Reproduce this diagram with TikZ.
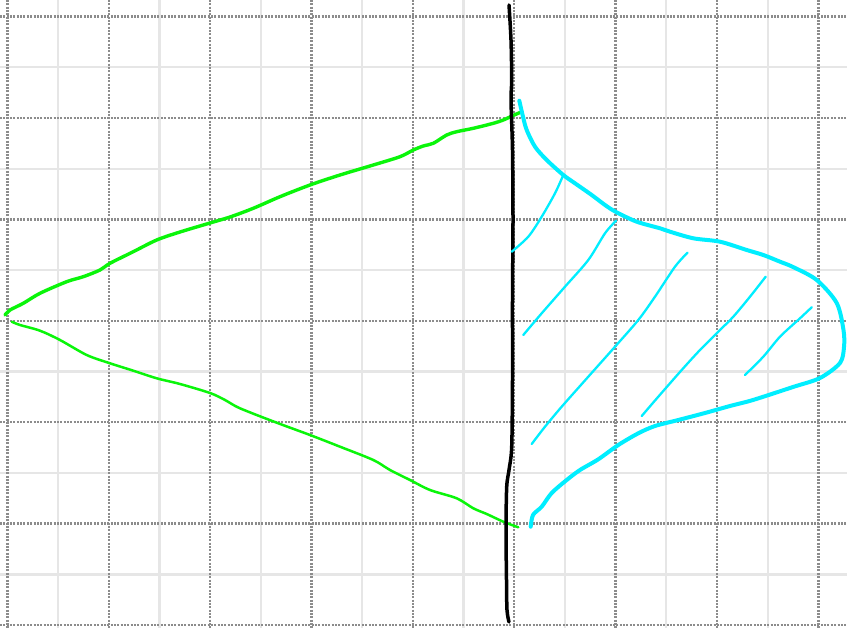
\documentclass[tikz,border=0pt]{standalone}
\usepackage{tikz}
\definecolor{gridlight}{RGB}{230,230,230}
\definecolor{griddot}{RGB}{140,140,140}
\definecolor{pengreen}{RGB}{10,245,10}
\definecolor{pencyan}{RGB}{0,238,255}
\tikzset{
  lightgrid/.style={draw=gridlight,line width=2.2pt},
  dotgrid/.style={draw=griddot,line width=2.4pt,dash pattern=on 2pt off 1.35pt},
  mirror/.style={draw=black,line width=3.5pt,line cap=round,line join=round},
  raythick/.style={draw=pengreen,line width=3.4pt,line cap=round,line join=round},
  raythin/.style={draw=pengreen,line width=2.5pt,line cap=round,line join=round},
  outline/.style={draw=pencyan,line width=4pt,line cap=round,line join=round},
  hatch/.style={draw=pencyan,line width=2.3pt,line cap=round,line join=round},
}
\begin{document}
\begin{tikzpicture}[x=1pt,y=-1pt]
\useasboundingbox (0,0) rectangle (847,628);
\fill[white] (0,0) rectangle (847,628);
% light grid
\foreach \k in {1,3,...,15} {
  \draw[lightgrid] ({7.5+50.675*\k},0) -- ({7.5+50.675*\k},628);
}
\foreach \k in {1,3,...,11} {
  \draw[lightgrid] (0,{16.7+50.7*\k}) -- (847,{16.7+50.7*\k});
}
% dotted grid
\foreach \k in {0,...,8} {
  \draw[dotgrid] ({7.5+101.35*\k},0) -- ({7.5+101.35*\k},628);
}
\foreach \k in {0,...,6} {
  \draw[dotgrid] (0,{16.7+101.4*\k}) -- (847,{16.7+101.4*\k});
}
% green rays
\draw[raythick] plot[smooth,tension=0.5] coordinates {
 (5,315) (10,310) (23.3,303.3) (40,293.3) (66.7,281.7) (83.3,276.7) (100,270)
 (110,263.3) (133.3,251.7) (156.7,240) (180,232) (210,223) (230,217)
 (253.3,208.3) (280,196.7) (310,185) (340,175) (373.3,165) (400,156.7)
 (413.3,150) (423.3,146) (433.3,143.3) (446.7,135) (456.7,131.7) (473.3,128.3)
 (493.3,123.3) (503.3,120) (512,116) (520,112.5)};
\draw[raythin] plot[smooth,tension=0.5] coordinates {
 (11.7,321.7) (20,325) (40,330.7) (60,340) (86.7,355) (110,363.3) (133.3,370.7)
 (156.7,378.3) (180,384) (210,393) (225,400) (240,408.3) (276.7,422.7)
 (310,435) (340,446.7) (373.3,460) (390,470) (410,480) (430,490) (456.7,498.3)
 (473.3,508.3) (486.7,514) (503.3,521.7) (518.3,527.3)};
% mirror
\draw[mirror] plot[smooth,tension=0.5] coordinates {
 (509,5) (511,40) (511.7,80) (511,100) (512.5,150) (513,220) (512.5,300)
 (512.5,380) (511.7,447) (509,470) (506.7,487) (506,530) (506.5,580)
 (507,610) (509,622)};
% cyan outline
\draw[outline] plot[smooth,tension=0.5] coordinates {
 (519.3,100.7) (523,116.7) (526.7,130) (535,146.7) (546.7,160) (563.3,175)
 (575,183.3) (591.7,195) (605,205) (616,212) (636.7,221.7) (660,228.3)
 (670,231.7) (693.3,238.3) (720,241.7) (746.7,250) (763.3,255) (780,261.7)
 (793,267) (816.7,280) (836.7,303) (843.5,330) (844,347) (840,363) (820,378)
 (793,387) (753,400) (730,406) (705,413) (678.3,420) (655,426) (638.3,433.3)
 (618.3,445) (598.3,459.3) (580,470) (566.7,480) (551.7,493) (541.7,506.7)
 (533,515) (530.7,526.7)};
% hatching
\draw[hatch] plot[smooth,tension=0.5] coordinates {
 (563.3,175) (555,193.3) (541.7,216.7) (528.3,236.7) (511.7,251.7)};
\draw[hatch] plot[smooth,tension=0.5] coordinates {
 (616,220.7) (605,233.3) (588.3,260) (565,286.7) (541.7,313.3) (523.3,335)};
\draw[hatch] plot[smooth,tension=0.5] coordinates {
 (687.5,252.7) (675,266.7) (655,296.7) (638.3,320) (615,346.7) (588.3,376.7)
 (561.7,406.7) (545,426.7) (531.7,444)};
\draw[hatch] plot[smooth,tension=0.5] coordinates {
 (765.7,276.7) (750,296.7) (733.3,316.7) (720,330) (700,350) (681.7,370)
 (658.3,396.7) (641.7,416)};
\draw[hatch] plot[smooth,tension=0.5] coordinates {
 (811.7,307.3) (800,318.3) (780,336.7) (763.3,356.7) (745,375)};
\end{tikzpicture}
\end{document}
